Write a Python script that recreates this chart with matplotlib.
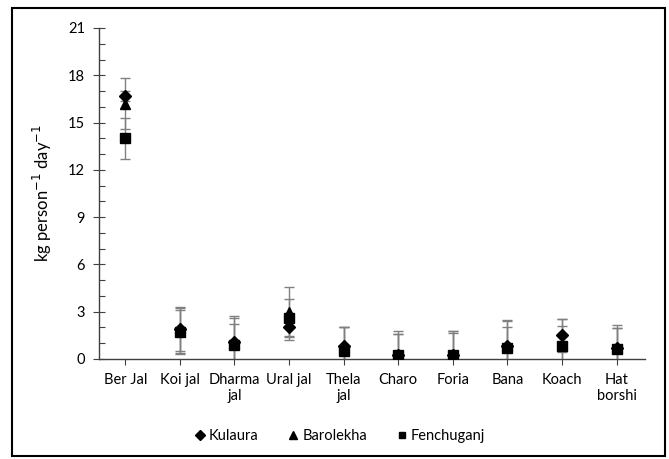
import matplotlib
matplotlib.use("Agg")
import matplotlib.pyplot as plt
from matplotlib.patches import Rectangle
import numpy as np

plt.rcParams['font.family'] = ['Lato', 'DejaVu Sans']

categories = ["Ber Jal", "Koi jal", "Dharma\njal", "Ural jal", "Thela\njal",
              "Charo", "Foria", "Bana", "Koach", "Hat\nborshi"]

kulaura = [16.7, 1.9, 1.1, 2.0, 0.8, 0.25, 0.25, 0.8, 1.5, 0.7]
kulaura_err = [0.3, 1.4, 1.6, 0.8, 1.2, 1.5, 1.55, 1.65, 1.05, 1.45]

barolekha = [16.2, 1.8, 1.0, 3.0, 0.7, 0.2, 0.2, 0.8, 0.9, 0.7]
barolekha_err = [1.6, 1.45, 1.6, 1.55, 1.3, 1.4, 1.6, 1.6, 1.65, 1.25]

fenchuganj = [14.0, 1.7, 0.9, 2.6, 0.5, 0.25, 0.25, 0.7, 0.8, 0.65]
fenchuganj_err = [1.3, 1.4, 1.3, 1.2, 1.5, 1.35, 1.4, 1.3, 1.3, 1.3]

W, H = 669, 459
fig = plt.figure(figsize=(W / 100, H / 100), dpi=100)
ax = fig.add_axes([99 / W, 1 - 359 / H, (645 - 99) / W, (359 - 28) / H])

x = np.arange(len(categories))
ecol = "#808080"
series = [
    (kulaura, kulaura_err, "D", 6.5, "Kulaura"),
    (barolekha, barolekha_err, "^", 7.5, "Barolekha"),
    (fenchuganj, fenchuganj_err, "s", 6.5, "Fenchuganj"),
]
handles = []
for vals, errs, mk, ms, lab in series:
    ax.errorbar(x, vals, yerr=errs, fmt="none", ecolor=ecol, elinewidth=1.0,
                capsize=3.5, capthick=1.0, zorder=2)
for vals, errs, mk, ms, lab in series:
    h, = ax.plot(x, vals, linestyle="none", marker=mk, markersize=ms,
                 color="black", label=lab, zorder=3)
    handles.append(h)

ax.set_xlim(-0.48, 9.52)
ax.set_ylim(0, 21)
ax.set_yticks(np.arange(0, 22, 3))
ax.set_yticks(np.arange(0, 22, 1), minor=True)
ax.set_xticks(x)
ax.set_xticklabels(categories, fontsize=10.5)
ax.tick_params(axis="y", which="major", direction="inout", length=8, width=0.8,
               labelsize=10.5, pad=6, color="#404040")
ax.tick_params(axis="y", which="minor", direction="in", length=4, width=0.8,
               color="#404040")
ax.tick_params(axis="x", which="major", direction="out", length=4, width=0.8,
               pad=6, color="#404040")
for s in ["top", "right"]:
    ax.spines[s].set_visible(False)
for s in ["left", "bottom"]:
    ax.spines[s].set_color("#404040")
    ax.spines[s].set_linewidth(1.0)

ax.set_ylabel("kg person$^{-1}$ day$^{-1}$", fontsize=12, labelpad=10)

fig.legend(handles=handles, loc="center", bbox_to_anchor=(340 / W, 1 - 436 / H),
           ncol=3, frameon=False, fontsize=10.5, handlelength=0.7,
           handletextpad=0.3, columnspacing=2.0, markerscale=0.75)

fig.patches.append(Rectangle((12 / W, 1 - 456 / H), (665 - 12) / W, (456 - 8) / H,
                             transform=fig.transFigure, fill=False,
                             edgecolor="black", linewidth=1.5))

fig.savefig("out.png", dpi=100)
